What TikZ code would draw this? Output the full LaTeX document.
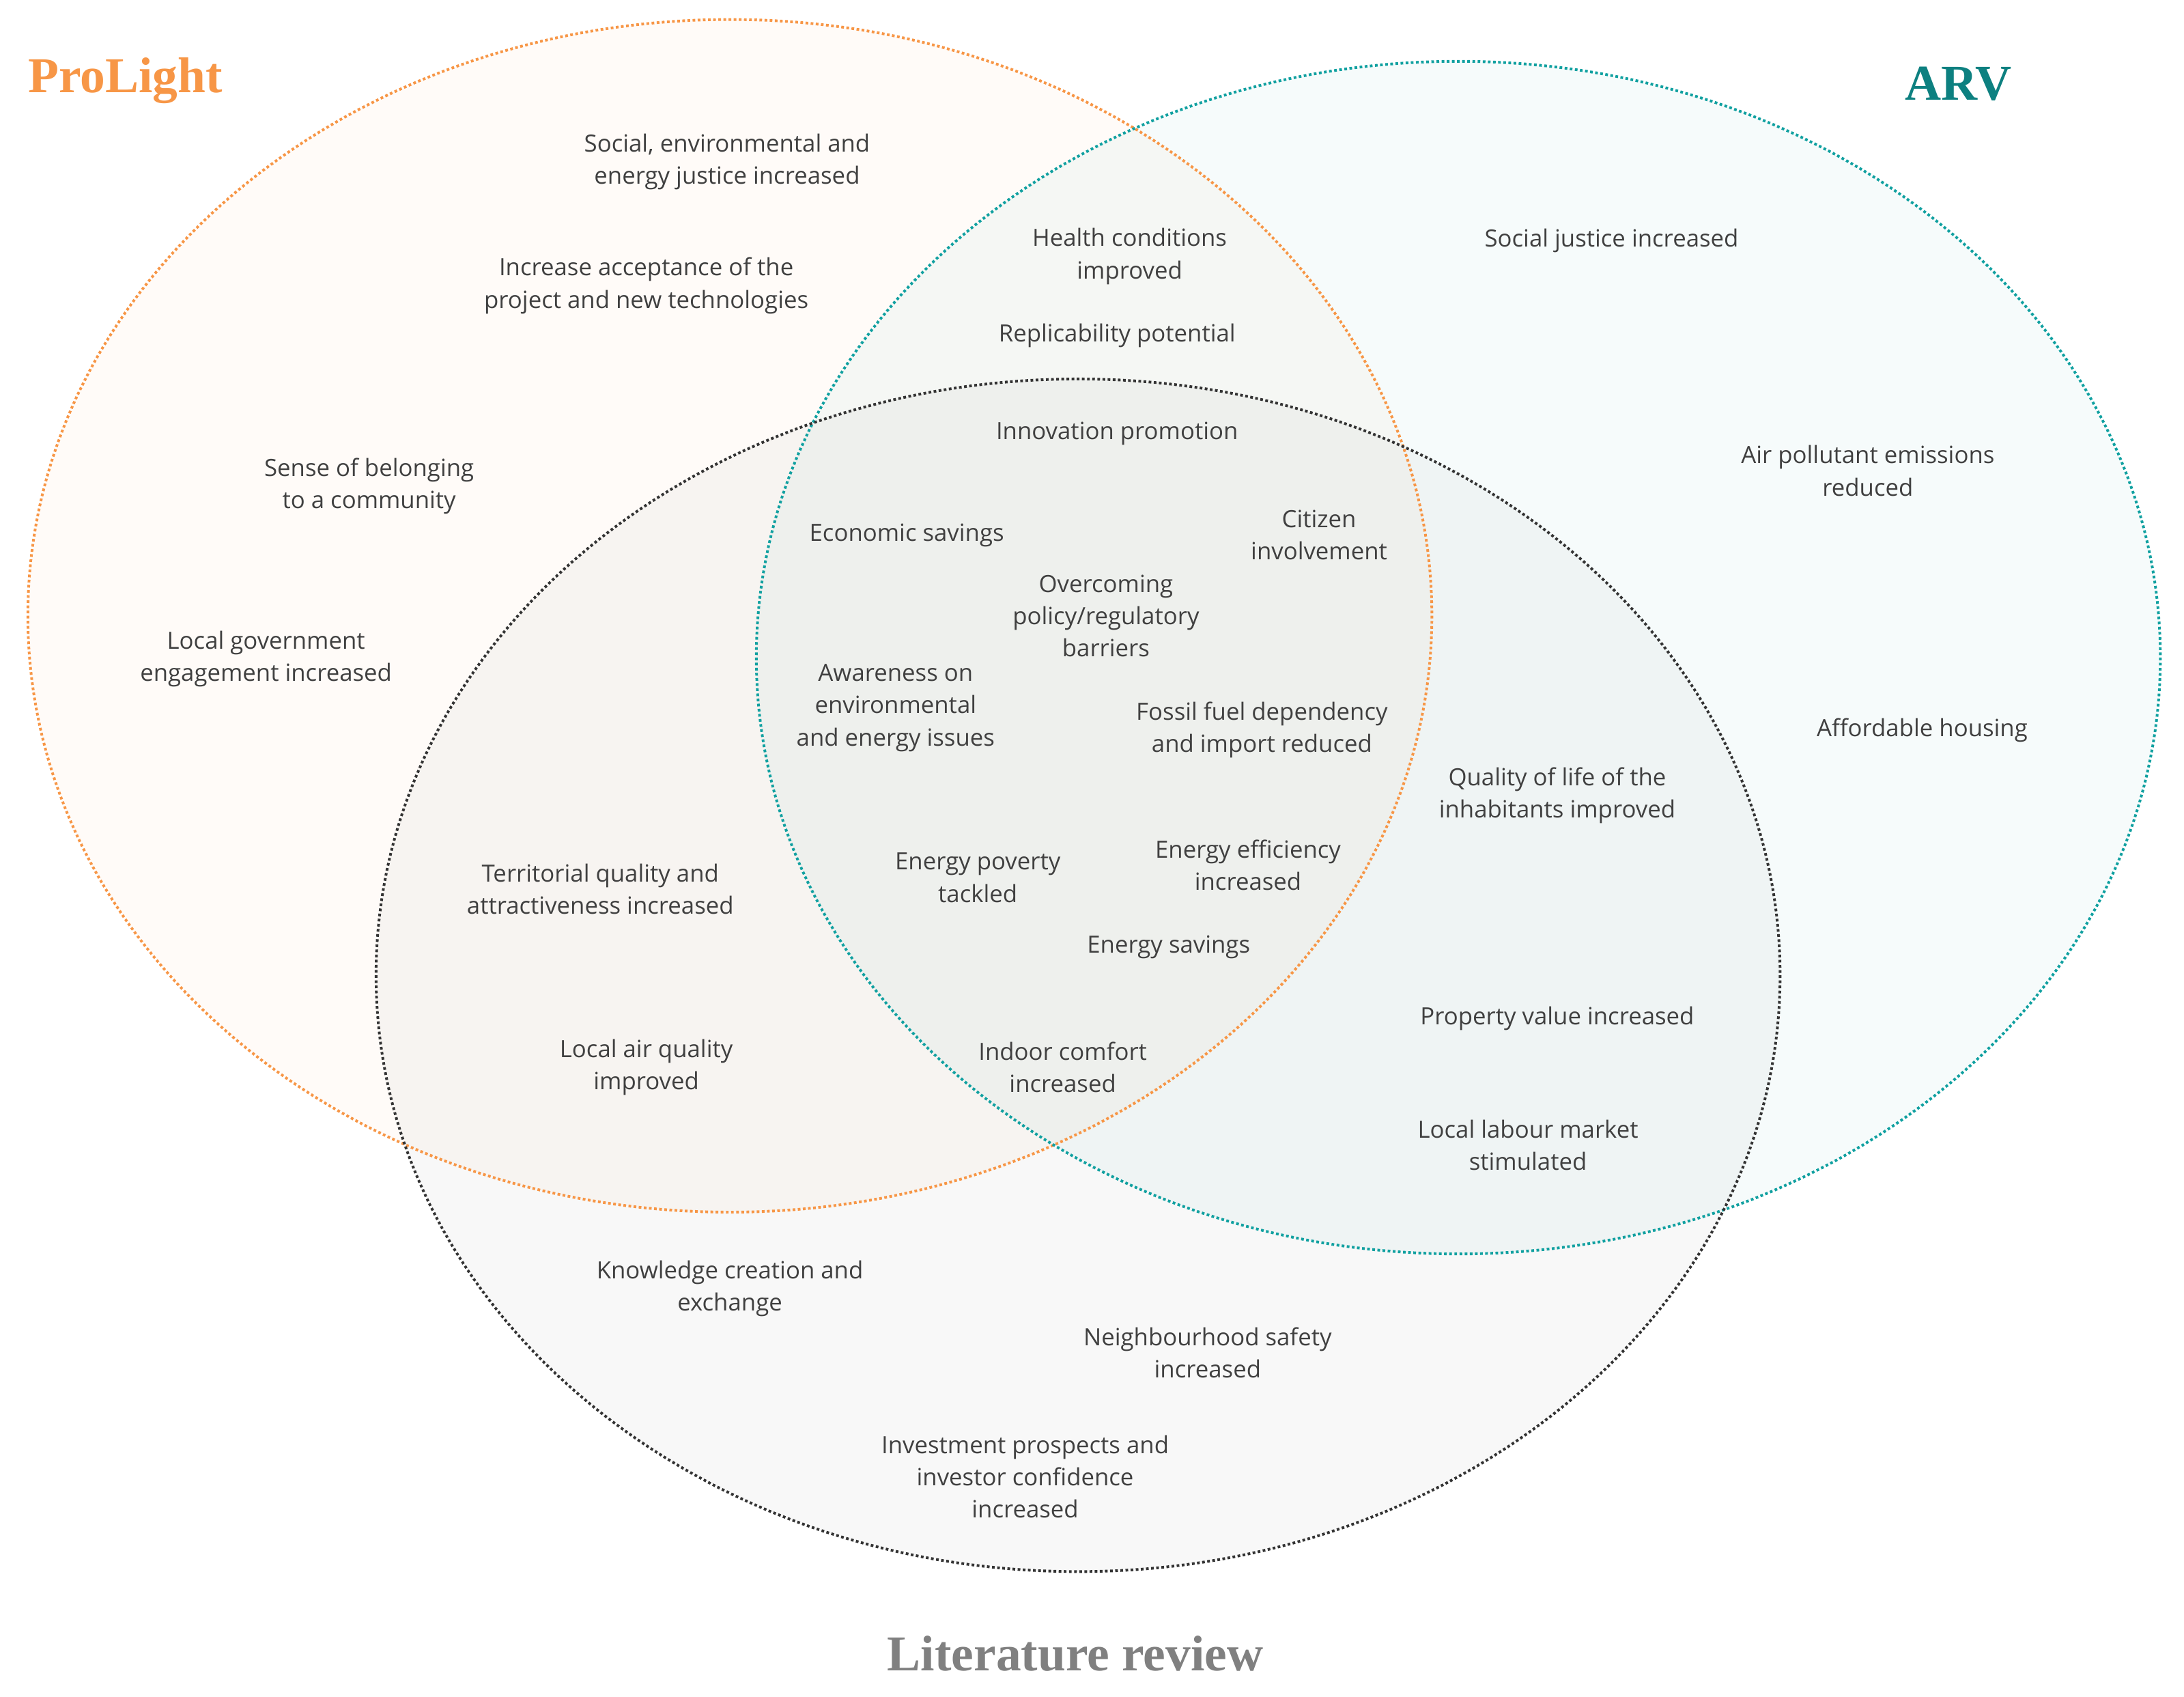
\documentclass[tikz,border=0pt]{standalone}
\usepackage{fontspec}
\setmainfont{Open Sans}
\newfontfamily\titlefont{Liberation Serif}
\definecolor{ora}{HTML}{F79646}
\definecolor{tea}{HTML}{10A0A0}
\definecolor{txt}{HTML}{404040}
\begin{document}
\begin{tikzpicture}[x=0.02cm,y=-0.02cm,
  t/.style={align=center,text=txt,font=\fontsize{9.7}{13.2}\selectfont,inner sep=0pt},
  ttl/.style={font=\titlefont\bfseries\fontsize{20.5}{24}\selectfont,inner sep=0pt}]
\useasboundingbox (0,0) rectangle (1568,1218);
\fill[ora,opacity=0.04] (524,442) ellipse [x radius=504,y radius=428];
\fill[tea,opacity=0.04] (1047,472) ellipse [x radius=504,y radius=428];
\fill[gray,opacity=0.06] (774,700) ellipse [x radius=504,y radius=428];
\draw[ora,densely dotted,line width=1.1pt] (524,442) ellipse [x radius=504,y radius=428];
\draw[tea,densely dotted,line width=1.1pt] (1047,472) ellipse [x radius=504,y radius=428];
\draw[black!80,densely dotted,line width=1.1pt] (774,700) ellipse [x radius=504,y radius=428];
\node[ttl,text=ora] (pl) at (90,58) {ProLight};
\node[ttl,text=tea!80!black] (arv) at (1406,60) {ARV};
\node[ttl,text=gray] (lr) at (772,1187) {Literature review};
\node[t] (a1) at (522,116) {Social, environmental and\\energy justice increased};
\node[t] (a2) at (464,205) {Increase acceptance of the\\project and new technologies};
\node[t] (a3) at (265,349) {Sense of belonging\\to a community};
\node[t] (a4) at (191,473) {Local government\\engagement increased};
\node[t] (b1) at (811,184) {Health conditions\\improved};
\node[t] (b2) at (802,241) {Replicability potential};
\node[t] (c1) at (1157,173) {Social justice increased};
\node[t] (c2) at (1341,338) {Air pollutant emissions\\reduced};
\node[t] (c3) at (1380,524) {Affordable housing};
\node[t] (d1) at (802,311) {Innovation promotion};
\node[t] (d2) at (651,384) {Economic savings};
\node[t] (d3) at (947,384) {Citizen\\involvement};
\node[t] (d4) at (794,442) {Overcoming\\policy/regulatory\\barriers};
\node[t] (d5) at (643,508) {Awareness on\\environmental\\and energy issues};
\node[t] (d6) at (906,524) {Fossil fuel dependency\\and import reduced};
\node[t] (d7) at (702,630) {Energy poverty\\tackled};
\node[t] (d8) at (896,621) {Energy efficiency\\increased};
\node[t] (d9) at (839,680) {Energy savings};
\node[t] (d10) at (763,766) {Indoor comfort\\increased};
\node[t] (e1) at (431,638) {Territorial quality and\\attractiveness increased};
\node[t] (e2) at (464,766) {Local air quality\\improved};
\node[t] (f1) at (1118,571) {Quality of life of the\\inhabitants improved};
\node[t] (f2) at (1118,731) {Property value increased};
\node[t] (f3) at (1097,822) {Local labour market\\stimulated};
\node[t] (g1) at (524,925) {Knowledge creation and\\exchange};
\node[t] (g2) at (867,971) {Neighbourhood safety\\increased};
\node[t] (g3) at (736,1060) {Investment prospects and\\investor confidence\\increased};
\end{tikzpicture}
\end{document}
